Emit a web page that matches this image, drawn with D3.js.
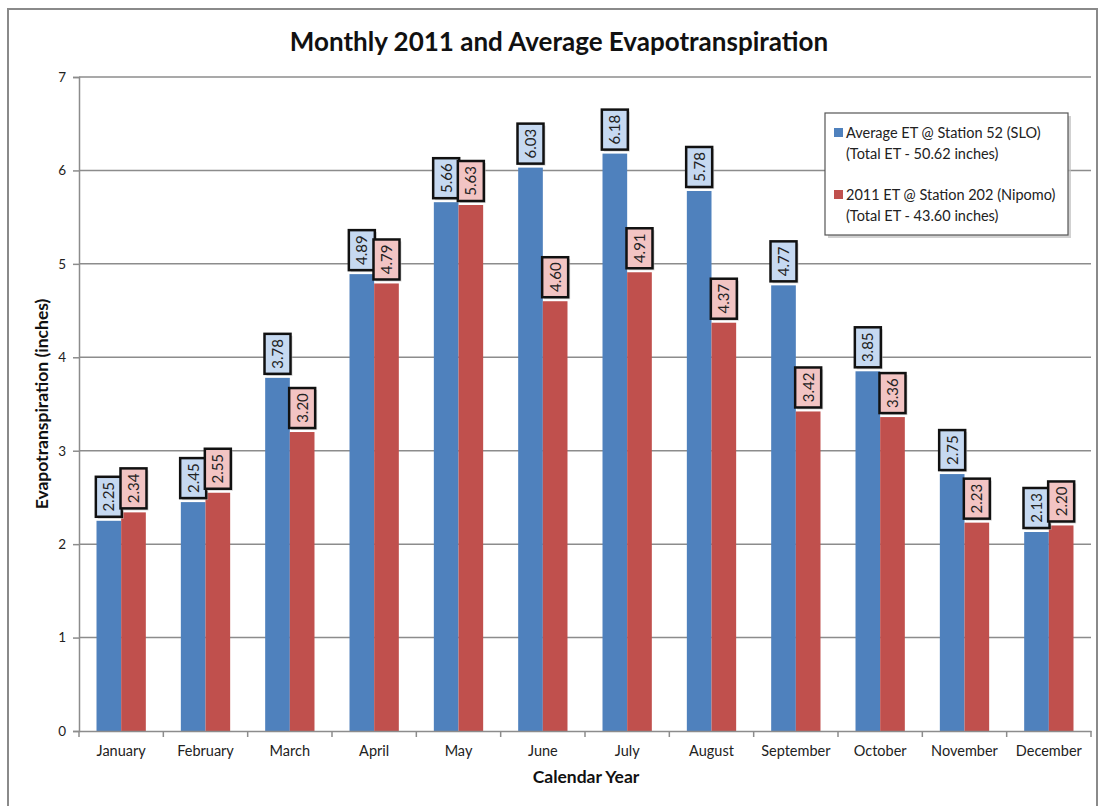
<!DOCTYPE html>
<html>
<head>
<meta charset="utf-8">
<script src="https://cdn.jsdelivr.net/npm/d3@7"></script>
<style>
  body { margin: 0; background: #fff; }
  svg { display: block; font-family: Lato, "Open Sans", sans-serif; }
</style>
</head>
<body>
<svg id="chart" width="1102" height="806"></svg>
<script>
// Monthly evapotranspiration, inches
const months = ["January","February","March","April","May","June","July","August","September","October","November","December"];
const avgET = [2.25, 2.45, 3.78, 4.89, 5.66, 6.03, 6.18, 5.78, 4.77, 3.85, 2.75, 2.13];
const et2011 = [2.34, 2.55, 3.20, 4.79, 5.63, 4.60, 4.91, 4.37, 3.42, 3.36, 2.23, 2.20];
const yTicks = [0, 1, 2, 3, 4, 5, 6, 7];
const seriesNames = ["Average ET @ Station 52 (SLO)", "2011 ET @ Station 202 (Nipomo)"];
const seriesTotals = ["(Total ET - 50.62 inches)", "(Total ET - 43.60 inches)"];

const colors = ["#4F81BD", "#C0504D"];
const boxFills = ["#C6D9F1", "#F2C4C3"];

const svg = d3.select("#chart");
const m = { left: 79, right: 1091, top: 77, bottom: 731 };

// outer chart frame
svg.append("rect").attr("x", 8).attr("y", 9).attr("width", 1089).attr("height", 820)
  .attr("fill", "none").attr("stroke", "#8a8a8a").attr("stroke-width", 2);

const x = d3.scaleBand().domain(months).range([m.left, m.right]).paddingInner(0).paddingOuter(0);
const inner = d3.scaleBand().domain([0, 1]).range([0, x.bandwidth()]).paddingInner(0).paddingOuter(0.71);
const y = d3.scaleLinear().domain([0, 7]).range([m.bottom, m.top]);

// gridlines
svg.append("g").selectAll("line").data(yTicks.filter(t => t > 0)).join("line")
  .attr("x1", m.left).attr("x2", m.right)
  .attr("y1", d => y(d)).attr("y2", d => y(d))
  .attr("stroke", "#8c8c8c").attr("stroke-width", 1.5);

// y axis
const yAxis = svg.append("g").attr("transform", `translate(${m.left},0)`)
  .call(d3.axisLeft(y).tickValues(yTicks).tickSize(6).tickPadding(7).tickFormat(d3.format("d")));
yAxis.select(".domain").attr("stroke", "#8c8c8c").attr("stroke-width", 1.5);
yAxis.selectAll(".tick line").attr("stroke", "#8c8c8c").attr("stroke-width", 1.5);
yAxis.selectAll("text").attr("font-size", 13.5).attr("fill", "#222").attr("font-family", "Lato, sans-serif");

// bars
const groups = svg.append("g").selectAll("g").data(months).join("g")
  .attr("transform", d => `translate(${x(d)},0)`);

const series = [avgET, et2011];
series.forEach((vals, s) => {
  groups.append("rect")
    .attr("x", inner(s))
    .attr("width", inner.bandwidth())
    .attr("y", (d, i) => y(vals[i]))
    .attr("height", (d, i) => y(0) - y(vals[i]))
    .attr("fill", colors[s]);
});

// x axis
const xAxis = svg.append("g").attr("transform", `translate(0,${m.bottom})`)
  .call(d3.axisBottom(x).tickSize(0).tickPadding(15));
xAxis.select(".domain").attr("stroke", "#8c8c8c").attr("stroke-width", 1.5);
xAxis.selectAll("text").attr("font-size", 14.5).attr("fill", "#222").attr("font-family", "Lato, sans-serif");
xAxis.selectAll(".bound").data(d3.range(months.length + 1)).join("line")
  .attr("class", "bound")
  .attr("x1", i => m.left + i * x.bandwidth()).attr("x2", i => m.left + i * x.bandwidth())
  .attr("y1", 0).attr("y2", 6)
  .attr("stroke", "#8c8c8c").attr("stroke-width", 1.5);

// value labels in boxes
const boxW = 26, boxH = 40, gap = 4;
series.forEach((vals, s) => {
  const lab = groups.append("g")
    .attr("transform", (d, i) => `translate(${inner(s) + inner.bandwidth() / 2},${y(vals[i]) - gap - boxH / 2})`);
  lab.append("rect")
    .attr("x", -boxW / 2 + 2).attr("y", -boxH / 2 + 2).attr("width", boxW).attr("height", boxH)
    .attr("fill", "#bbb").attr("opacity", 0.6);
  lab.append("rect")
    .attr("x", -boxW / 2).attr("y", -boxH / 2).attr("width", boxW).attr("height", boxH)
    .attr("fill", boxFills[s]).attr("stroke", "#111").attr("stroke-width", 2.5);
  lab.append("text")
    .attr("transform", "rotate(-90)")
    .attr("text-anchor", "middle").attr("dy", "0.36em")
    .attr("font-size", 15).attr("fill", "#222")
    .text((d, i) => vals[i].toFixed(2));
});

// title and axis titles
svg.append("text").attr("x", 559).attr("y", 51).attr("text-anchor", "middle")
  .attr("font-size", 26).attr("font-weight", "bold").attr("fill", "#111")
  .text("Monthly 2011 and Average Evapotranspiration");
svg.append("text").attr("x", 586).attr("y", 783).attr("text-anchor", "middle")
  .attr("font-size", 17.5).attr("font-weight", "bold").attr("fill", "#111")
  .text("Calendar Year");
svg.append("text").attr("transform", "translate(48,404) rotate(-90)").attr("text-anchor", "middle")
  .attr("font-size", 17.5).attr("font-weight", "bold").attr("fill", "#111")
  .text("Evapotranspiration (inches)");

// legend
const lg = svg.append("g").attr("transform", "translate(825,113)");
lg.append("rect").attr("x", 3).attr("y", 3).attr("width", 243).attr("height", 122).attr("fill", "#bdbdbd").attr("opacity", 0.7);
lg.append("rect").attr("width", 243).attr("height", 122).attr("fill", "#fff").attr("stroke", "#555").attr("stroke-width", 1.2);
seriesNames.forEach((name, s) => {
  const row = lg.append("g").attr("transform", `translate(0,${20 + s * 62})`);
  row.append("rect").attr("x", 9).attr("y", -5).attr("width", 9).attr("height", 9).attr("fill", colors[s]);
  row.append("text").attr("x", 21).attr("y", 0).attr("dy", "0.35em").attr("font-size", 14.5).attr("fill", "#222").text(name);
  row.append("text").attr("x", 21).attr("y", 21).attr("dy", "0.35em").attr("font-size", 14.5).attr("fill", "#222").text(seriesTotals[s]);
});
</script>
</body>
</html>
